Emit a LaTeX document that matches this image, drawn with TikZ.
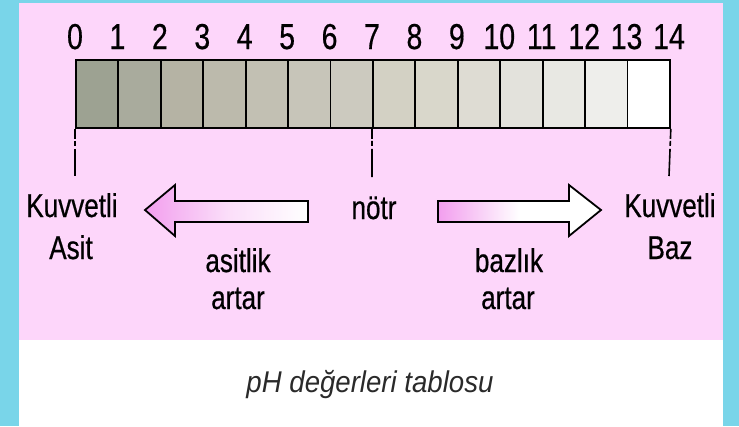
\documentclass[tikz,border=0pt]{standalone}
\usepackage{fontspec}
\setmainfont{Liberation Sans}[FakeStretch=0.79, FakeBold=0.5]
\newfontfamily\capfont{Liberation Sans}[FakeStretch=0.92]
\definecolor{framecyan}{HTML}{79D5E9}
\definecolor{panelpink}{HTML}{FDD6FA}
\definecolor{arrowpink}{HTML}{F29EEE}
\definecolor{captiongray}{HTML}{2A2A2A}
% cell shades from strong acid (0) to strong base (14)
\definecolor{c0}{HTML}{9DA292}
\definecolor{c1}{HTML}{A9AB9D}
\definecolor{c2}{HTML}{B5B3A4}
\definecolor{c3}{HTML}{BCBAAC}
\definecolor{c4}{HTML}{C2C0B3}
\definecolor{c5}{HTML}{C7C5B9}
\definecolor{c6}{HTML}{CCCABF}
\definecolor{c7}{HTML}{D3D1C4}
\definecolor{c8}{HTML}{D9D7CB}
\definecolor{c9}{HTML}{DEDCD3}
\definecolor{c10}{HTML}{E3E2DC}
\definecolor{c11}{HTML}{E8E8E3}
\definecolor{c12}{HTML}{EEEEEB}
\definecolor{c13}{HTML}{F5F5F3}
\begin{document}
\begin{tikzpicture}[x=1pt,y=-1pt,
  num/.style={anchor=base, inner sep=0pt, font=\fontsize{36}{42}\selectfont},
  lbl/.style={anchor=base, inner sep=0pt, font=\fontsize{33}{40}\selectfont},
  cell/.style={draw=black, line width=1.8pt, minimum width=42.43pt,
    minimum height=68pt, inner sep=0pt, anchor=north west},
  tickline/.style={draw=black, line width=1.6pt,
    dash pattern=on 10pt off 2pt on 5pt off 3pt on 60pt},
  blockarrow/.style={draw=black, line width=1.8pt, line join=miter}]
\useasboundingbox (0,0) rectangle (739,426);
% background
\fill[framecyan] (0,0) rectangle (739,426);
\fill[panelpink] (19,3) rectangle (723,340);
\fill[white] (19,340) rectangle (723,426);

% pH scale cells
\foreach \i in {0,...,12}
  \node[cell, fill=c\i] (cell\i) at ({75+\i*42.43},59) {};
\node[cell, fill=white] (cell13) at ({75+13*42.43},59) {};

% scale numbers
\foreach \i in {0,...,14}
  \node[num] (n\i) at ({75+\i*42.43},49) {\i};

% tick marks under 0, 7 and 14
\coordinate (t0) at (75,176);
\coordinate (t7) at (372,177);
\coordinate (t14) at (669,176);
\draw[tickline] (cell0.south west) -- (t0);
\draw[tickline] (cell7.south west) -- (t7);
\draw[tickline] (cell13.south east) -- (t14);

% labels
\node[lbl] (kasit) at (72,217) {Kuvvetli};
\node[lbl] (asit) at (71,259) {Asit};
\node[lbl] (notr) at (374,219) {nötr};
\node[lbl] (kbaz) at (670,217) {Kuvvetli};
\node[lbl] (baz) at (670,259) {Baz};
\node[lbl] (asitlik) at (238,272) {asitlik};
\node[lbl] (aartar) at (238,309) {artar};
\node[lbl] (bazlik) at (509,272) {bazlık};
\node[lbl] (bartar) at (508,309) {artar};

% direction arrows
\draw[blockarrow, left color=arrowpink, right color=white, middle color=arrowpink!35]
  (145,210) -- (175,185) -- (175,201) -- (308,201) -- (308,222)
  -- (175,222) -- (175,236) -- cycle;
\draw[blockarrow, left color=arrowpink, right color=white, middle color=white]
  (438,201) -- (569,201) -- (569,185) -- (601,210) -- (569,236)
  -- (569,222) -- (438,222) -- cycle;

% caption
\node[anchor=base, inner sep=0pt, text=captiongray,
  font=\capfont\itshape\fontsize{30}{36}\selectfont] (caption) at (370,392)
  {pH değerleri tablosu};
\end{tikzpicture}
\end{document}
